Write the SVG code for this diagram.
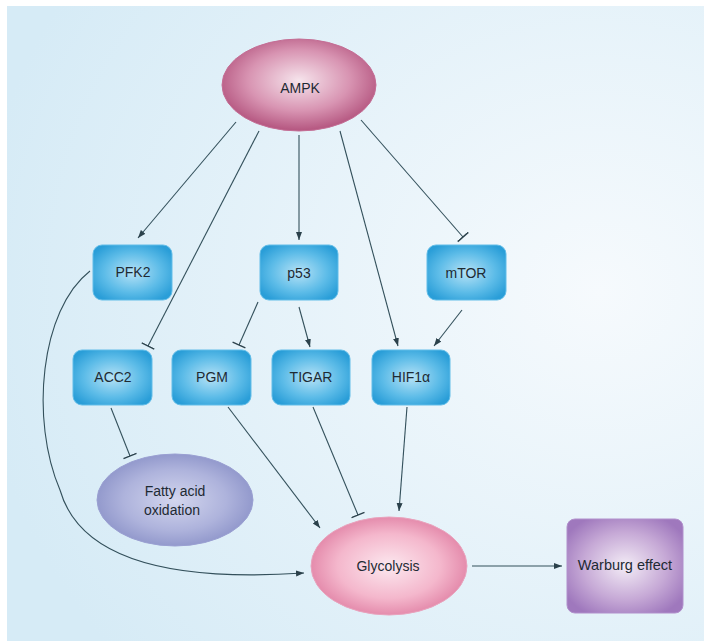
<svg xmlns="http://www.w3.org/2000/svg" width="704" height="641" viewBox="0 0 704 641">
<style>
.lbl{font-family:"Liberation Sans",Arial,sans-serif;font-size:14px;fill:#1e2a33;text-anchor:middle;dominant-baseline:central}
.box{fill:url(#gBox);stroke:#62bde8;stroke-width:1}
.c{fill:none;stroke:#33505b;stroke-width:1.1}
.a{marker-end:url(#arr)}
.t{marker-end:url(#tee)}
</style>
<defs>
<radialGradient id="gBg" cx="0.85" cy="0.45" r="0.9">
<stop offset="0" stop-color="#f6fafd"/>
<stop offset="1" stop-color="#d6ebf6"/>
</radialGradient>
<radialGradient id="gBox" cx="0.5" cy="0.5" r="0.6">
<stop offset="0" stop-color="#b6e2f6"/>
<stop offset="0.6" stop-color="#5dbce8"/>
<stop offset="1" stop-color="#2a9ed8"/>
</radialGradient>
<radialGradient id="gAmpk" cx="0.5" cy="0.45" r="0.55">
<stop offset="0" stop-color="#f6e4ec"/>
<stop offset="0.6" stop-color="#d894b2"/>
<stop offset="1" stop-color="#b4557f"/>
</radialGradient>
<radialGradient id="gGly" cx="0.5" cy="0.5" r="0.55">
<stop offset="0" stop-color="#fce8ef"/>
<stop offset="0.6" stop-color="#f4b7cc"/>
<stop offset="1" stop-color="#e07fa3"/>
</radialGradient>
<radialGradient id="gFao" cx="0.5" cy="0.5" r="0.55">
<stop offset="0" stop-color="#d3d6ee"/>
<stop offset="0.6" stop-color="#aeb3dc"/>
<stop offset="1" stop-color="#8b92c8"/>
</radialGradient>
<radialGradient id="gWar" cx="0.5" cy="0.5" r="0.6">
<stop offset="0" stop-color="#f3ecf6"/>
<stop offset="0.6" stop-color="#c6a9d6"/>
<stop offset="1" stop-color="#9f78bd"/>
</radialGradient>
<marker id="arr" markerUnits="userSpaceOnUse" markerWidth="9" markerHeight="7" refX="8" refY="3" orient="auto">
<path d="M0,0 L8,3 L0,6 z" fill="#2b414b"/>
</marker>
<marker id="tee" markerUnits="userSpaceOnUse" markerWidth="4" markerHeight="16" refX="1" refY="8" orient="auto">
<path d="M1,1 L1,15" stroke="#2b414b" stroke-width="1.4" fill="none"/>
</marker>
</defs>
<rect x="0" y="0" width="704" height="641" fill="#ffffff"/>
<rect x="7" y="6" width="697" height="635" fill="url(#gBg)"/>
<g id="connectors">
<line class="c a" x1="236" y1="122" x2="138" y2="238"/>
<line class="c t" x1="259" y1="131" x2="148" y2="346"/>
<line class="c a" x1="299" y1="135" x2="299" y2="240"/>
<line class="c a" x1="340" y1="131" x2="398" y2="346"/>
<line class="c t" x1="361" y1="120" x2="463" y2="237"/>
<line class="c t" x1="258" y1="302" x2="239" y2="345"/>
<line class="c a" x1="299" y1="307" x2="310" y2="347"/>
<line class="c a" x1="462" y1="310" x2="434" y2="346"/>
<line class="c t" x1="111" y1="408" x2="130" y2="456"/>
<line class="c a" x1="228" y1="407" x2="320" y2="528"/>
<line class="c t" x1="313" y1="407" x2="358" y2="515"/>
<line class="c a" x1="407" y1="407" x2="399" y2="511"/>
<line class="c a" x1="472" y1="566" x2="562" y2="566"/>
<path class="c a" d="M90,271 C40,310 30,420 60,490 C80,560 170,582 304,573"/>
</g>
<g id="AMPK"><ellipse cx="299" cy="85" rx="77" ry="46" fill="url(#gAmpk)" stroke="#c46e95" stroke-width="1"/><text class="lbl" x="300" y="88">AMPK</text></g>
<g id="PFK2"><rect class="box" x="93" y="245" width="79" height="55" rx="9"/><text class="lbl" x="133" y="272">PFK2</text></g>
<g id="p53"><rect class="box" x="260" y="245" width="78" height="55" rx="9"/><text class="lbl" x="299" y="273">p53</text></g>
<g id="mTOR"><rect class="box" x="427" y="245" width="79" height="55" rx="9"/><text class="lbl" x="466" y="273">mTOR</text></g>
<g id="ACC2"><rect class="box" x="73" y="350" width="79" height="55" rx="9"/><text class="lbl" x="113" y="377">ACC2</text></g>
<g id="PGM"><rect class="box" x="172" y="350" width="79" height="55" rx="9"/><text class="lbl" x="212" y="377">PGM</text></g>
<g id="TIGAR"><rect class="box" x="272" y="350" width="78" height="55" rx="9"/><text class="lbl" x="311" y="377">TIGAR</text></g>
<g id="HIF1a"><rect class="box" x="372" y="350" width="78" height="55" rx="9"/><text class="lbl" x="411" y="377">HIF1α</text></g>
<g id="FAO"><ellipse cx="175" cy="500" rx="78" ry="46" fill="url(#gFao)" stroke="#9aa0d2" stroke-width="1"/><text class="lbl" x="175" y="491">Fatty acid</text><text class="lbl" x="172" y="510">oxidation</text></g>
<g id="Glycolysis"><ellipse cx="389" cy="566" rx="78" ry="49" fill="url(#gGly)" stroke="#e9a3bd" stroke-width="1"/><text class="lbl" x="388" y="566">Glycolysis</text></g>
<g id="Warburg"><rect x="567" y="519" width="116" height="94" rx="8" fill="url(#gWar)" stroke="#b190cc" stroke-width="1"/><text class="lbl" x="625" y="565" style="font-size:14.5px">Warburg effect</text></g>
</svg>
